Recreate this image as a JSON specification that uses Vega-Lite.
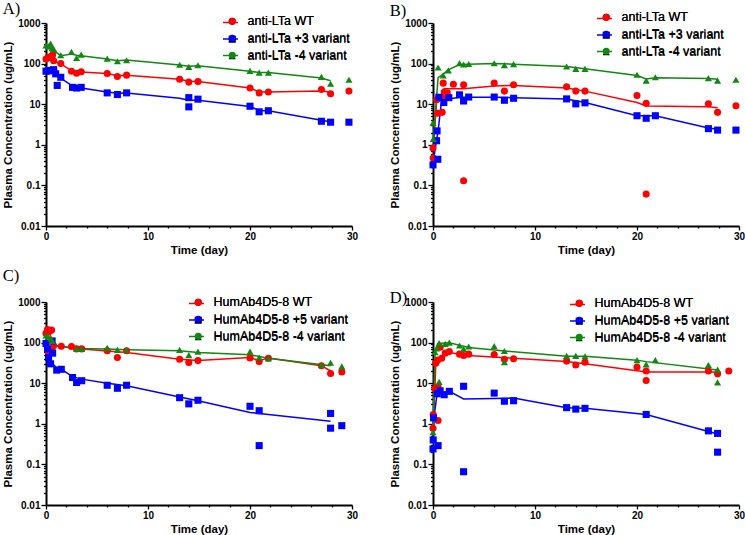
{
  "$schema": "https://vega.github.io/schema/vega-lite/v6.json",
  "padding": {"left": 2, "top": 0, "right": 0, "bottom": 0},
  "background": "white",
  "config": {
    "view": {"stroke": null},
    "axis": {
      "grid": false,
      "domainColor": "#000",
      "domainWidth": 2,
      "tickColor": "#000",
      "tickWidth": 1.3,
      "labelFont": "Liberation Sans",
      "labelFontWeight": "bold",
      "labelFontSize": 10,
      "labelColor": "#000",
      "labelOverlap": false,
      "labelFlush": false,
      "titleFont": "Liberation Sans",
      "titleFontWeight": "bold",
      "titleFontSize": 11.5,
      "titleColor": "#000"
    },
    "legend": {
      "orient": "none",
      "padding": 0,
      "labelFont": "Liberation Sans",
      "labelFontSize": 12.5,
      "labelColor": "#000",
      "symbolSize": 50,
      "labelOffset": 9,
      "rowPadding": 4
    },
    "title": {"font": "Liberation Serif", "fontSize": 16.5, "fontWeight": "normal", "color": "#000", "anchor": "start", "frame": "bounds"}
  },
  "datasets": {
    "A_obs": [
      {"series": "WT", "day": 0, "conc": 130}, {"series": "WT", "day": 0.2, "conc": 140}, {"series": "WT", "day": 0.45, "conc": 150}, {"series": "WT", "day": 0.65, "conc": 165}, {"series": "WT", "day": 0.75, "conc": 118}, {"series": "WT", "day": 1.45, "conc": 100}, {"series": "WT", "day": 2.5, "conc": 65}, {"series": "WT", "day": 3, "conc": 58}, {"series": "WT", "day": 3.45, "conc": 63}, {"series": "WT", "day": 6, "conc": 57}, {"series": "WT", "day": 7, "conc": 48}, {"series": "WT", "day": 7.9, "conc": 52}, {"series": "WT", "day": 13.1, "conc": 41}, {"series": "WT", "day": 14, "conc": 35}, {"series": "WT", "day": 14.9, "conc": 36}, {"series": "WT", "day": 20, "conc": 25}, {"series": "WT", "day": 20.9, "conc": 19}, {"series": "WT", "day": 21.8, "conc": 20}, {"series": "WT", "day": 27, "conc": 23}, {"series": "WT", "day": 27.9, "conc": 18}, {"series": "WT", "day": 29.7, "conc": 21},
      {"series": "+3", "day": 0, "conc": 65}, {"series": "+3", "day": 0.25, "conc": 68}, {"series": "+3", "day": 0.5, "conc": 66}, {"series": "+3", "day": 0.75, "conc": 71}, {"series": "+3", "day": 0.95, "conc": 56}, {"series": "+3", "day": 1.1, "conc": 29}, {"series": "+3", "day": 1.45, "conc": 46}, {"series": "+3", "day": 2.6, "conc": 26}, {"series": "+3", "day": 3, "conc": 25}, {"series": "+3", "day": 3.45, "conc": 26}, {"series": "+3", "day": 6, "conc": 19}, {"series": "+3", "day": 7, "conc": 17.3}, {"series": "+3", "day": 7.9, "conc": 19}, {"series": "+3", "day": 14, "conc": 14.5}, {"series": "+3", "day": 14, "conc": 8.6}, {"series": "+3", "day": 14.9, "conc": 13.3}, {"series": "+3", "day": 20, "conc": 8.9}, {"series": "+3", "day": 20.9, "conc": 6.5}, {"series": "+3", "day": 21.8, "conc": 6.9}, {"series": "+3", "day": 27, "conc": 3.8}, {"series": "+3", "day": 27.9, "conc": 3.6}, {"series": "+3", "day": 29.7, "conc": 3.6},
      {"series": "-4", "day": 0, "conc": 280}, {"series": "-4", "day": 0.25, "conc": 265}, {"series": "-4", "day": 0.45, "conc": 310}, {"series": "-4", "day": 0.6, "conc": 240}, {"series": "-4", "day": 0.75, "conc": 230}, {"series": "-4", "day": 1.45, "conc": 160}, {"series": "-4", "day": 2.5, "conc": 194}, {"series": "-4", "day": 3, "conc": 138}, {"series": "-4", "day": 3.45, "conc": 166}, {"series": "-4", "day": 6, "conc": 133}, {"series": "-4", "day": 7, "conc": 114}, {"series": "-4", "day": 7.9, "conc": 121}, {"series": "-4", "day": 13.1, "conc": 94}, {"series": "-4", "day": 14, "conc": 83}, {"series": "-4", "day": 14.9, "conc": 91}, {"series": "-4", "day": 20, "conc": 66}, {"series": "-4", "day": 20.9, "conc": 60}, {"series": "-4", "day": 21.8, "conc": 60}, {"series": "-4", "day": 27, "conc": 47}, {"series": "-4", "day": 27.9, "conc": 32}, {"series": "-4", "day": 29.7, "conc": 40}
    ],
    "A_fit": [
      {"series": "WT", "day": 0, "conc": 128}, {"series": "WT", "day": 0.45, "conc": 148}, {"series": "WT", "day": 0.65, "conc": 160}, {"series": "WT", "day": 1, "conc": 110}, {"series": "WT", "day": 1.45, "conc": 100}, {"series": "WT", "day": 2.5, "conc": 66}, {"series": "WT", "day": 3, "conc": 60}, {"series": "WT", "day": 3.45, "conc": 62}, {"series": "WT", "day": 6, "conc": 57}, {"series": "WT", "day": 7, "conc": 50}, {"series": "WT", "day": 7.9, "conc": 52}, {"series": "WT", "day": 13.1, "conc": 41}, {"series": "WT", "day": 14, "conc": 37}, {"series": "WT", "day": 14.9, "conc": 36}, {"series": "WT", "day": 20, "conc": 25}, {"series": "WT", "day": 20.9, "conc": 20}, {"series": "WT", "day": 21.8, "conc": 20}, {"series": "WT", "day": 27, "conc": 21}, {"series": "WT", "day": 27.9, "conc": 20},
      {"series": "+3", "day": 0, "conc": 66}, {"series": "+3", "day": 0.5, "conc": 68}, {"series": "+3", "day": 0.75, "conc": 66}, {"series": "+3", "day": 1, "conc": 50}, {"series": "+3", "day": 1.45, "conc": 44}, {"series": "+3", "day": 2.6, "conc": 28}, {"series": "+3", "day": 3, "conc": 26}, {"series": "+3", "day": 3.45, "conc": 25}, {"series": "+3", "day": 6, "conc": 20}, {"series": "+3", "day": 7, "conc": 18.5}, {"series": "+3", "day": 7.9, "conc": 19}, {"series": "+3", "day": 13.1, "conc": 14}, {"series": "+3", "day": 14, "conc": 12.5}, {"series": "+3", "day": 14.9, "conc": 12.5}, {"series": "+3", "day": 20, "conc": 8.8}, {"series": "+3", "day": 20.9, "conc": 7}, {"series": "+3", "day": 21.8, "conc": 6.9}, {"series": "+3", "day": 27, "conc": 4}, {"series": "+3", "day": 27.9, "conc": 3.7},
      {"series": "-4", "day": 0, "conc": 277}, {"series": "-4", "day": 0.45, "conc": 277}, {"series": "-4", "day": 0.75, "conc": 208}, {"series": "-4", "day": 1.45, "conc": 157}, {"series": "-4", "day": 2.5, "conc": 172}, {"series": "-4", "day": 3, "conc": 160}, {"series": "-4", "day": 3.45, "conc": 157}, {"series": "-4", "day": 6, "conc": 130}, {"series": "-4", "day": 7, "conc": 118}, {"series": "-4", "day": 7.9, "conc": 122}, {"series": "-4", "day": 13.1, "conc": 92}, {"series": "-4", "day": 14, "conc": 86}, {"series": "-4", "day": 14.9, "conc": 88}, {"series": "-4", "day": 20, "conc": 65}, {"series": "-4", "day": 20.9, "conc": 60}, {"series": "-4", "day": 21.8, "conc": 60}, {"series": "-4", "day": 27, "conc": 44}, {"series": "-4", "day": 27.9, "conc": 38}
    ],
    "B_obs": [
      {"series": "WT", "day": 0, "conc": 0.83}, {"series": "WT", "day": 0.02, "conc": 0.47}, {"series": "WT", "day": 0.35, "conc": 12.9}, {"series": "WT", "day": 0.45, "conc": 6}, {"series": "WT", "day": 0.9, "conc": 6.3}, {"series": "WT", "day": 1.05, "conc": 13.5}, {"series": "WT", "day": 1.1, "conc": 20}, {"series": "WT", "day": 1.4, "conc": 19}, {"series": "WT", "day": 1, "conc": 33}, {"series": "WT", "day": 2, "conc": 31}, {"series": "WT", "day": 3, "conc": 30}, {"series": "WT", "day": 3, "conc": 0.13}, {"series": "WT", "day": 6, "conc": 33}, {"series": "WT", "day": 7, "conc": 21}, {"series": "WT", "day": 7.9, "conc": 30}, {"series": "WT", "day": 13.1, "conc": 27}, {"series": "WT", "day": 14, "conc": 21}, {"series": "WT", "day": 14.9, "conc": 21}, {"series": "WT", "day": 20, "conc": 16.3}, {"series": "WT", "day": 20.9, "conc": 10.5}, {"series": "WT", "day": 20.9, "conc": 0.061}, {"series": "WT", "day": 27, "conc": 10.2}, {"series": "WT", "day": 27.9, "conc": 6.3}, {"series": "WT", "day": 29.7, "conc": 9.2},
      {"series": "+3", "day": 0, "conc": 0.32}, {"series": "+3", "day": 0.47, "conc": 0.44}, {"series": "+3", "day": 0.35, "conc": 1.26}, {"series": "+3", "day": 0.4, "conc": 2.2}, {"series": "+3", "day": 0.57, "conc": 14.8}, {"series": "+3", "day": 1.06, "conc": 11}, {"series": "+3", "day": 1.55, "conc": 14.5}, {"series": "+3", "day": 2.6, "conc": 17}, {"series": "+3", "day": 3, "conc": 12}, {"series": "+3", "day": 3.5, "conc": 15}, {"series": "+3", "day": 6, "conc": 15}, {"series": "+3", "day": 7, "conc": 12.5}, {"series": "+3", "day": 7.9, "conc": 14}, {"series": "+3", "day": 13.1, "conc": 13.5}, {"series": "+3", "day": 14, "conc": 10.2}, {"series": "+3", "day": 14.9, "conc": 10.8}, {"series": "+3", "day": 20, "conc": 5.2}, {"series": "+3", "day": 20.9, "conc": 4.5}, {"series": "+3", "day": 21.8, "conc": 5.2}, {"series": "+3", "day": 27, "conc": 2.5}, {"series": "+3", "day": 27.9, "conc": 2.3}, {"series": "+3", "day": 29.7, "conc": 2.3},
      {"series": "-4", "day": 0, "conc": 3.5}, {"series": "-4", "day": 0.03, "conc": 1.4}, {"series": "-4", "day": 0.5, "conc": 80}, {"series": "-4", "day": 1, "conc": 51}, {"series": "-4", "day": 1.5, "conc": 68}, {"series": "-4", "day": 2.6, "conc": 103}, {"series": "-4", "day": 3, "conc": 95}, {"series": "-4", "day": 3.5, "conc": 98}, {"series": "-4", "day": 6, "conc": 102}, {"series": "-4", "day": 7, "conc": 92}, {"series": "-4", "day": 7.9, "conc": 97}, {"series": "-4", "day": 13.1, "conc": 85}, {"series": "-4", "day": 14, "conc": 74}, {"series": "-4", "day": 14.9, "conc": 74}, {"series": "-4", "day": 20, "conc": 53}, {"series": "-4", "day": 20.9, "conc": 38}, {"series": "-4", "day": 21.8, "conc": 46}, {"series": "-4", "day": 27, "conc": 44}, {"series": "-4", "day": 27.9, "conc": 38}, {"series": "-4", "day": 29.7, "conc": 40}
    ],
    "B_fit": [
      {"series": "WT", "day": 0, "conc": 0.7}, {"series": "WT", "day": 0.35, "conc": 11}, {"series": "WT", "day": 0.9, "conc": 13}, {"series": "WT", "day": 1.1, "conc": 24}, {"series": "WT", "day": 2, "conc": 24}, {"series": "WT", "day": 3, "conc": 24}, {"series": "WT", "day": 6, "conc": 28}, {"series": "WT", "day": 7.9, "conc": 29}, {"series": "WT", "day": 13.1, "conc": 25}, {"series": "WT", "day": 14.9, "conc": 21}, {"series": "WT", "day": 20, "conc": 11}, {"series": "WT", "day": 20.9, "conc": 9}, {"series": "WT", "day": 27, "conc": 8.6}, {"series": "WT", "day": 27.9, "conc": 8.2},
      {"series": "+3", "day": 0, "conc": 0.36}, {"series": "+3", "day": 0.35, "conc": 1.3}, {"series": "+3", "day": 0.5, "conc": 2.2}, {"series": "+3", "day": 0.8, "conc": 10}, {"series": "+3", "day": 1.06, "conc": 12}, {"series": "+3", "day": 1.55, "conc": 13.5}, {"series": "+3", "day": 2.6, "conc": 14.8}, {"series": "+3", "day": 3.5, "conc": 14.8}, {"series": "+3", "day": 6, "conc": 14.8}, {"series": "+3", "day": 7.9, "conc": 14.5}, {"series": "+3", "day": 13.1, "conc": 13.5}, {"series": "+3", "day": 14.9, "conc": 11}, {"series": "+3", "day": 20, "conc": 5.2}, {"series": "+3", "day": 21.8, "conc": 5.2}, {"series": "+3", "day": 27, "conc": 2.6}, {"series": "+3", "day": 27.9, "conc": 2.4},
      {"series": "-4", "day": 0, "conc": 1.2}, {"series": "-4", "day": 0.3, "conc": 10}, {"series": "-4", "day": 0.5, "conc": 45}, {"series": "-4", "day": 1, "conc": 55}, {"series": "-4", "day": 1.5, "conc": 70}, {"series": "-4", "day": 2.6, "conc": 95}, {"series": "-4", "day": 3.5, "conc": 97}, {"series": "-4", "day": 6, "conc": 100}, {"series": "-4", "day": 7.9, "conc": 97}, {"series": "-4", "day": 13.1, "conc": 85}, {"series": "-4", "day": 14.9, "conc": 75}, {"series": "-4", "day": 20, "conc": 51}, {"series": "-4", "day": 20.9, "conc": 42}, {"series": "-4", "day": 21.8, "conc": 45}, {"series": "-4", "day": 27, "conc": 43}, {"series": "-4", "day": 27.9, "conc": 41}
    ],
    "C_obs": [
      {"series": "WT", "day": 0, "conc": 170}, {"series": "WT", "day": 0.15, "conc": 210}, {"series": "WT", "day": 0.35, "conc": 190}, {"series": "WT", "day": 0.55, "conc": 205}, {"series": "WT", "day": 0.2, "conc": 63}, {"series": "WT", "day": 0.35, "conc": 57}, {"series": "WT", "day": 0.6, "conc": 62}, {"series": "WT", "day": 0.75, "conc": 84}, {"series": "WT", "day": 1.5, "conc": 81}, {"series": "WT", "day": 2.5, "conc": 80}, {"series": "WT", "day": 3, "conc": 70}, {"series": "WT", "day": 3.5, "conc": 70}, {"series": "WT", "day": 6, "conc": 63}, {"series": "WT", "day": 7, "conc": 43}, {"series": "WT", "day": 7.9, "conc": 63}, {"series": "WT", "day": 13.1, "conc": 39}, {"series": "WT", "day": 14, "conc": 32.5}, {"series": "WT", "day": 14.9, "conc": 36}, {"series": "WT", "day": 20, "conc": 42}, {"series": "WT", "day": 20.9, "conc": 34}, {"series": "WT", "day": 21.8, "conc": 41}, {"series": "WT", "day": 27, "conc": 27}, {"series": "WT", "day": 27.9, "conc": 17.4}, {"series": "WT", "day": 29, "conc": 19},
      {"series": "+5", "day": 0, "conc": 95}, {"series": "+5", "day": 0.15, "conc": 70}, {"series": "+5", "day": 0.25, "conc": 43}, {"series": "+5", "day": 0.45, "conc": 30}, {"series": "+5", "day": 0.65, "conc": 55}, {"series": "+5", "day": 0.6, "conc": 110}, {"series": "+5", "day": 1.05, "conc": 21}, {"series": "+5", "day": 1.5, "conc": 22}, {"series": "+5", "day": 2.6, "conc": 13.8}, {"series": "+5", "day": 3, "conc": 10.4}, {"series": "+5", "day": 3.5, "conc": 11.5}, {"series": "+5", "day": 6, "conc": 8.9}, {"series": "+5", "day": 7, "conc": 7.5}, {"series": "+5", "day": 7.9, "conc": 8.9}, {"series": "+5", "day": 13.1, "conc": 4.4}, {"series": "+5", "day": 14, "conc": 3.1}, {"series": "+5", "day": 14.9, "conc": 3.8}, {"series": "+5", "day": 20, "conc": 2.7}, {"series": "+5", "day": 20.9, "conc": 2.1}, {"series": "+5", "day": 20.9, "conc": 0.29}, {"series": "+5", "day": 27.9, "conc": 1.8}, {"series": "+5", "day": 27.9, "conc": 0.78}, {"series": "+5", "day": 29, "conc": 0.9},
      {"series": "-4", "day": 0, "conc": 150}, {"series": "-4", "day": 0.2, "conc": 140}, {"series": "-4", "day": 0.5, "conc": 125}, {"series": "-4", "day": 0.6, "conc": 110}, {"series": "-4", "day": 3, "conc": 70}, {"series": "-4", "day": 3.5, "conc": 70}, {"series": "-4", "day": 6, "conc": 74}, {"series": "-4", "day": 7, "conc": 66}, {"series": "-4", "day": 7.9, "conc": 66}, {"series": "-4", "day": 13.1, "conc": 66}, {"series": "-4", "day": 14, "conc": 49}, {"series": "-4", "day": 14.9, "conc": 60}, {"series": "-4", "day": 20, "conc": 60}, {"series": "-4", "day": 20.9, "conc": 43}, {"series": "-4", "day": 21.8, "conc": 41}, {"series": "-4", "day": 27, "conc": 28}, {"series": "-4", "day": 27.9, "conc": 32}, {"series": "-4", "day": 29, "conc": 26}
    ],
    "C_fit": [
      {"series": "WT", "day": 0, "conc": 180}, {"series": "WT", "day": 0.35, "conc": 200}, {"series": "WT", "day": 0.55, "conc": 80}, {"series": "WT", "day": 0.75, "conc": 84}, {"series": "WT", "day": 1.5, "conc": 80}, {"series": "WT", "day": 2.5, "conc": 74}, {"series": "WT", "day": 3.5, "conc": 70}, {"series": "WT", "day": 6, "conc": 62}, {"series": "WT", "day": 7.9, "conc": 57}, {"series": "WT", "day": 13.1, "conc": 39}, {"series": "WT", "day": 14.9, "conc": 36}, {"series": "WT", "day": 20, "conc": 43}, {"series": "WT", "day": 20.9, "conc": 36}, {"series": "WT", "day": 21.8, "conc": 42}, {"series": "WT", "day": 27, "conc": 27}, {"series": "WT", "day": 27.9, "conc": 20},
      {"series": "+5", "day": 0, "conc": 90}, {"series": "+5", "day": 0.2, "conc": 55}, {"series": "+5", "day": 0.45, "conc": 35}, {"series": "+5", "day": 0.65, "conc": 30}, {"series": "+5", "day": 1.05, "conc": 24}, {"series": "+5", "day": 1.5, "conc": 22}, {"series": "+5", "day": 2.6, "conc": 14.5}, {"series": "+5", "day": 3.5, "conc": 12.6}, {"series": "+5", "day": 6, "conc": 10}, {"series": "+5", "day": 7.9, "conc": 8.6}, {"series": "+5", "day": 13.1, "conc": 4.6}, {"series": "+5", "day": 14.9, "conc": 3.7}, {"series": "+5", "day": 20, "conc": 1.9}, {"series": "+5", "day": 20.9, "conc": 1.8}, {"series": "+5", "day": 27.9, "conc": 1.16},
      {"series": "-4", "day": 0, "conc": 150}, {"series": "-4", "day": 0.5, "conc": 120}, {"series": "-4", "day": 1, "conc": 85}, {"series": "-4", "day": 3, "conc": 72}, {"series": "-4", "day": 6, "conc": 70}, {"series": "-4", "day": 7.9, "conc": 67}, {"series": "-4", "day": 13.1, "conc": 63}, {"series": "-4", "day": 14.9, "conc": 57}, {"series": "-4", "day": 20, "conc": 50}, {"series": "-4", "day": 21.8, "conc": 41}, {"series": "-4", "day": 27.9, "conc": 27}
    ],
    "D_obs": [
      {"series": "WT", "day": 0, "conc": 0.78}, {"series": "WT", "day": 0.02, "conc": 1.7}, {"series": "WT", "day": 0.5, "conc": 1.2}, {"series": "WT", "day": 0.17, "conc": 7.4}, {"series": "WT", "day": 0.5, "conc": 8.2}, {"series": "WT", "day": 0.27, "conc": 31}, {"series": "WT", "day": 0.45, "conc": 37}, {"series": "WT", "day": 0.7, "conc": 77}, {"series": "WT", "day": 0.85, "conc": 41}, {"series": "WT", "day": 1.2, "conc": 55}, {"series": "WT", "day": 1.6, "conc": 60}, {"series": "WT", "day": 2.6, "conc": 52}, {"series": "WT", "day": 3, "conc": 48}, {"series": "WT", "day": 3.5, "conc": 52}, {"series": "WT", "day": 6, "conc": 51}, {"series": "WT", "day": 7, "conc": 39}, {"series": "WT", "day": 7.9, "conc": 40}, {"series": "WT", "day": 13.1, "conc": 35}, {"series": "WT", "day": 14, "conc": 28}, {"series": "WT", "day": 14.9, "conc": 33}, {"series": "WT", "day": 20, "conc": 25}, {"series": "WT", "day": 20.9, "conc": 20}, {"series": "WT", "day": 20.9, "conc": 11.7}, {"series": "WT", "day": 27, "conc": 20}, {"series": "WT", "day": 27.9, "conc": 17}, {"series": "WT", "day": 29, "conc": 20},
      {"series": "+5", "day": 0, "conc": 0.24}, {"series": "+5", "day": 0.02, "conc": 0.4}, {"series": "+5", "day": 0.05, "conc": 1.4}, {"series": "+5", "day": 0.5, "conc": 0.29}, {"series": "+5", "day": 0.42, "conc": 5.5}, {"series": "+5", "day": 0.7, "conc": 6.5}, {"series": "+5", "day": 1.1, "conc": 5.2}, {"series": "+5", "day": 1.6, "conc": 6.3}, {"series": "+5", "day": 3, "conc": 8.4}, {"series": "+5", "day": 3, "conc": 0.066}, {"series": "+5", "day": 6, "conc": 5.7}, {"series": "+5", "day": 7, "conc": 3.6}, {"series": "+5", "day": 7.9, "conc": 3.7}, {"series": "+5", "day": 13.1, "conc": 2.5}, {"series": "+5", "day": 14, "conc": 2.3}, {"series": "+5", "day": 14.9, "conc": 2.4}, {"series": "+5", "day": 20.9, "conc": 1.7}, {"series": "+5", "day": 27, "conc": 0.67}, {"series": "+5", "day": 27.9, "conc": 0.58}, {"series": "+5", "day": 27.9, "conc": 0.2},
      {"series": "-4", "day": 0, "conc": 0.62}, {"series": "-4", "day": 0.2, "conc": 58}, {"series": "-4", "day": 0.35, "conc": 72}, {"series": "-4", "day": 0.6, "conc": 97}, {"series": "-4", "day": 0.6, "conc": 10.8}, {"series": "-4", "day": 1.2, "conc": 93}, {"series": "-4", "day": 1.6, "conc": 100}, {"series": "-4", "day": 2.6, "conc": 85}, {"series": "-4", "day": 3, "conc": 70}, {"series": "-4", "day": 3.5, "conc": 80}, {"series": "-4", "day": 6, "conc": 82}, {"series": "-4", "day": 7, "conc": 62}, {"series": "-4", "day": 7, "conc": 33}, {"series": "-4", "day": 13.1, "conc": 47}, {"series": "-4", "day": 14, "conc": 47}, {"series": "-4", "day": 14.9, "conc": 46}, {"series": "-4", "day": 20, "conc": 37}, {"series": "-4", "day": 20.9, "conc": 29}, {"series": "-4", "day": 21.8, "conc": 37}, {"series": "-4", "day": 27, "conc": 28}, {"series": "-4", "day": 27.9, "conc": 21.6}, {"series": "-4", "day": 27.9, "conc": 10.5}
    ],
    "D_fit": [
      {"series": "WT", "day": 0, "conc": 0.9}, {"series": "WT", "day": 0.17, "conc": 6}, {"series": "WT", "day": 0.27, "conc": 28}, {"series": "WT", "day": 0.45, "conc": 33}, {"series": "WT", "day": 0.85, "conc": 42}, {"series": "WT", "day": 1.2, "conc": 50}, {"series": "WT", "day": 1.6, "conc": 58}, {"series": "WT", "day": 3, "conc": 49}, {"series": "WT", "day": 7.9, "conc": 41}, {"series": "WT", "day": 13.1, "conc": 34}, {"series": "WT", "day": 14.9, "conc": 30}, {"series": "WT", "day": 20.9, "conc": 19}, {"series": "WT", "day": 27.9, "conc": 19},
      {"series": "+5", "day": 0, "conc": 0.5}, {"series": "+5", "day": 0.1, "conc": 1.5}, {"series": "+5", "day": 0.4, "conc": 5.4}, {"series": "+5", "day": 1.6, "conc": 6.3}, {"series": "+5", "day": 3, "conc": 4.1}, {"series": "+5", "day": 7.9, "conc": 4.3}, {"series": "+5", "day": 13.1, "conc": 2.5}, {"series": "+5", "day": 14.9, "conc": 2.4}, {"series": "+5", "day": 20.9, "conc": 1.7}, {"series": "+5", "day": 27.9, "conc": 0.56},
      {"series": "-4", "day": 0, "conc": 0.7}, {"series": "-4", "day": 0.2, "conc": 55}, {"series": "-4", "day": 0.5, "conc": 95}, {"series": "-4", "day": 1.6, "conc": 99}, {"series": "-4", "day": 3.5, "conc": 76}, {"series": "-4", "day": 7, "conc": 62}, {"series": "-4", "day": 13.1, "conc": 46}, {"series": "-4", "day": 14.9, "conc": 46}, {"series": "-4", "day": 20, "conc": 37}, {"series": "-4", "day": 20.9, "conc": 34}, {"series": "-4", "day": 27.9, "conc": 21}
    ]
  },
  "columns": 2,
  "spacing": {"row": 11, "column": 31},
  "resolve": {"scale": {"color": "independent", "shape": "independent"}, "legend": {"color": "independent", "shape": "independent"}},
  "concat": [
    {
      "title": {"text": "A)", "offset": -3},
      "width": 306,
      "height": 203,
      "encoding": {
        "x": {"field": "day", "type": "quantitative", "title": "Time (day)", "scale": {"domain": [0, 30], "nice": false, "zero": false},
          "axis": {"values": [0, 2, 4, 6, 8, 10, 12, 14, 16, 18, 20, 22, 24, 26, 28, 30], "labelExpr": "datum.value % 10 == 0 ? datum.label : ''", "tickSize": {"condition": {"test": "datum.value % 10 == 0", "value": 4}, "value": 2}, "labelPadding": 1, "titlePadding": 3}},
        "y": {"field": "conc", "type": "quantitative", "title": "Plasma Concentration (ug/mL)", "scale": {"type": "log", "domain": [0.01, 1000], "nice": false},
          "axis": {"values": [0.01, 0.02, 0.03, 0.04, 0.05, 0.06, 0.07, 0.08, 0.09, 0.1, 0.2, 0.3, 0.4, 0.5, 0.6, 0.7, 0.8, 0.9, 1, 2, 3, 4, 5, 6, 7, 8, 9, 10, 20, 30, 40, 50, 60, 70, 80, 90, 100, 200, 300, 400, 500, 600, 700, 800, 900, 1000], "format": "~g", "labelExpr": "abs(log(datum.value) / LN10 - round(log(datum.value) / LN10)) < 0.001 ? datum.label : ''", "tickSize": {"condition": {"test": "abs(log(datum.value) / LN10 - round(log(datum.value) / LN10)) < 0.001", "value": 5}, "value": 2.5}, "labelPadding": 1, "titlePadding": 4}}
      },
      "resolve": {"scale": {"color": "independent"}},
      "layer": [
        {"data": {"name": "A_fit"}, "mark": {"type": "line", "strokeWidth": 1.5},
          "encoding": {"color": {"field": "series", "type": "nominal", "scale": {"domain": ["WT", "+3", "-4"], "range": ["#ff0000", "#0000ff", "#118811"]},
            "legend": {"title": null, "legendX": 176, "legendY": -9, "symbolType": "stroke", "symbolSize": 225, "symbolStrokeWidth": 1.5, "rowPadding": 1.5, "labelOpacity": 0, "labelExpr": "datum.label == 'WT' ? 'anti-LTa WT' : 'anti-LTa ' + datum.label + ' variant'"}}}},
        {"data": {"name": "A_obs"}, "mark": {"type": "point", "filled": true, "opacity": 1, "size": 50},
          "encoding": {"color": {"field": "series", "type": "nominal", "scale": {"domain": ["WT", "+3", "-4"], "range": ["#ff0000", "#0000ff", "#118811"]},
            "legend": {"title": null, "legendX": 180, "legendY": -8, "labelExpr": "datum.label == 'WT' ? 'anti-LTa WT' : 'anti-LTa ' + datum.label + ' variant'"}},
            "shape": {"field": "series", "type": "nominal", "scale": {"domain": ["WT", "+3", "-4"], "range": ["circle", "square", "triangle-up"]},
            "legend": {"title": null, "legendX": 180, "legendY": -8, "labelExpr": "datum.label == 'WT' ? 'anti-LTa WT' : 'anti-LTa ' + datum.label + ' variant'"}}}}
      ]
    },
    {
      "title": {"text": "B)", "offset": -9},
      "width": 306,
      "height": 203,
      "encoding": {
        "x": {"field": "day", "type": "quantitative", "title": "Time (day)", "scale": {"domain": [0, 30], "nice": false, "zero": false},
          "axis": {"values": [0, 2, 4, 6, 8, 10, 12, 14, 16, 18, 20, 22, 24, 26, 28, 30], "labelExpr": "datum.value % 10 == 0 ? datum.label : ''", "tickSize": {"condition": {"test": "datum.value % 10 == 0", "value": 4}, "value": 2}, "labelPadding": 1, "titlePadding": 3}},
        "y": {"field": "conc", "type": "quantitative", "title": "Plasma Concentration (ug/mL)", "scale": {"type": "log", "domain": [0.01, 1000], "nice": false},
          "axis": {"values": [0.01, 0.02, 0.03, 0.04, 0.05, 0.06, 0.07, 0.08, 0.09, 0.1, 0.2, 0.3, 0.4, 0.5, 0.6, 0.7, 0.8, 0.9, 1, 2, 3, 4, 5, 6, 7, 8, 9, 10, 20, 30, 40, 50, 60, 70, 80, 90, 100, 200, 300, 400, 500, 600, 700, 800, 900, 1000], "format": "~g", "labelExpr": "abs(log(datum.value) / LN10 - round(log(datum.value) / LN10)) < 0.001 ? datum.label : ''", "tickSize": {"condition": {"test": "abs(log(datum.value) / LN10 - round(log(datum.value) / LN10)) < 0.001", "value": 5}, "value": 2.5}, "labelPadding": 1, "titlePadding": 4}}
      },
      "resolve": {"scale": {"color": "independent"}},
      "layer": [
        {"data": {"name": "B_fit"}, "mark": {"type": "line", "strokeWidth": 1.5},
          "encoding": {"color": {"field": "series", "type": "nominal", "scale": {"domain": ["WT", "+3", "-4"], "range": ["#ff0000", "#0000ff", "#118811"]},
            "legend": {"title": null, "legendX": 163, "legendY": -13, "symbolType": "stroke", "symbolSize": 225, "symbolStrokeWidth": 1.5, "rowPadding": 1.5, "labelOpacity": 0, "labelExpr": "datum.label == 'WT' ? 'anti-LTa WT' : 'anti-LTa ' + datum.label + ' variant'"}}}},
        {"data": {"name": "B_obs"}, "mark": {"type": "point", "filled": true, "opacity": 1, "size": 50},
          "encoding": {"color": {"field": "series", "type": "nominal", "scale": {"domain": ["WT", "+3", "-4"], "range": ["#ff0000", "#0000ff", "#118811"]},
            "legend": {"title": null, "legendX": 167, "legendY": -12, "labelExpr": "datum.label == 'WT' ? 'anti-LTa WT' : 'anti-LTa ' + datum.label + ' variant'"}},
            "shape": {"field": "series", "type": "nominal", "scale": {"domain": ["WT", "+3", "-4"], "range": ["circle", "square", "triangle-up"]},
            "legend": {"title": null, "legendX": 167, "legendY": -12, "labelExpr": "datum.label == 'WT' ? 'anti-LTa WT' : 'anti-LTa ' + datum.label + ' variant'"}}}}
      ]
    },
    {
      "title": {"text": "C)", "offset": 11},
      "width": 306,
      "height": 203,
      "encoding": {
        "x": {"field": "day", "type": "quantitative", "title": "Time (day)", "scale": {"domain": [0, 30], "nice": false, "zero": false},
          "axis": {"values": [0, 2, 4, 6, 8, 10, 12, 14, 16, 18, 20, 22, 24, 26, 28, 30], "labelExpr": "datum.value % 10 == 0 ? datum.label : ''", "tickSize": {"condition": {"test": "datum.value % 10 == 0", "value": 4}, "value": 2}, "labelPadding": 1, "titlePadding": 3}},
        "y": {"field": "conc", "type": "quantitative", "title": "Plasma Concentration (ug/mL)", "scale": {"type": "log", "domain": [0.01, 1000], "nice": false},
          "axis": {"values": [0.01, 0.02, 0.03, 0.04, 0.05, 0.06, 0.07, 0.08, 0.09, 0.1, 0.2, 0.3, 0.4, 0.5, 0.6, 0.7, 0.8, 0.9, 1, 2, 3, 4, 5, 6, 7, 8, 9, 10, 20, 30, 40, 50, 60, 70, 80, 90, 100, 200, 300, 400, 500, 600, 700, 800, 900, 1000], "format": "~g", "labelExpr": "abs(log(datum.value) / LN10 - round(log(datum.value) / LN10)) < 0.001 ? datum.label : ''", "tickSize": {"condition": {"test": "abs(log(datum.value) / LN10 - round(log(datum.value) / LN10)) < 0.001", "value": 5}, "value": 2.5}, "labelPadding": 1, "titlePadding": 4}}
      },
      "resolve": {"scale": {"color": "independent"}},
      "layer": [
        {"data": {"name": "C_fit"}, "mark": {"type": "line", "strokeWidth": 1.5},
          "encoding": {"color": {"field": "series", "type": "nominal", "scale": {"domain": ["WT", "+5", "-4"], "range": ["#ff0000", "#0000ff", "#118811"]},
            "legend": {"title": null, "legendX": 142, "legendY": -7, "symbolType": "stroke", "symbolSize": 225, "symbolStrokeWidth": 1.5, "rowPadding": 1.5, "labelOpacity": 0, "labelExpr": "datum.label == 'WT' ? 'HumAb4D5-8 WT' : 'HumAb4D5-8 ' + datum.label + ' variant'"}}}},
        {"data": {"name": "C_obs"}, "mark": {"type": "point", "filled": true, "opacity": 1, "size": 50},
          "encoding": {"color": {"field": "series", "type": "nominal", "scale": {"domain": ["WT", "+5", "-4"], "range": ["#ff0000", "#0000ff", "#118811"]},
            "legend": {"title": null, "legendX": 146, "legendY": -6, "labelExpr": "datum.label == 'WT' ? 'HumAb4D5-8 WT' : 'HumAb4D5-8 ' + datum.label + ' variant'"}},
            "shape": {"field": "series", "type": "nominal", "scale": {"domain": ["WT", "+5", "-4"], "range": ["circle", "square", "triangle-up"]},
            "legend": {"title": null, "legendX": 146, "legendY": -6, "labelExpr": "datum.label == 'WT' ? 'HumAb4D5-8 WT' : 'HumAb4D5-8 ' + datum.label + ' variant'"}}}}
      ]
    },
    {
      "title": {"text": "D)", "offset": -10},
      "width": 306,
      "height": 203,
      "encoding": {
        "x": {"field": "day", "type": "quantitative", "title": "Time (day)", "scale": {"domain": [0, 30], "nice": false, "zero": false},
          "axis": {"values": [0, 2, 4, 6, 8, 10, 12, 14, 16, 18, 20, 22, 24, 26, 28, 30], "labelExpr": "datum.value % 10 == 0 ? datum.label : ''", "tickSize": {"condition": {"test": "datum.value % 10 == 0", "value": 4}, "value": 2}, "labelPadding": 1, "titlePadding": 3}},
        "y": {"field": "conc", "type": "quantitative", "title": "Plasma Concentration (ug/mL)", "scale": {"type": "log", "domain": [0.01, 1000], "nice": false},
          "axis": {"values": [0.01, 0.02, 0.03, 0.04, 0.05, 0.06, 0.07, 0.08, 0.09, 0.1, 0.2, 0.3, 0.4, 0.5, 0.6, 0.7, 0.8, 0.9, 1, 2, 3, 4, 5, 6, 7, 8, 9, 10, 20, 30, 40, 50, 60, 70, 80, 90, 100, 200, 300, 400, 500, 600, 700, 800, 900, 1000], "format": "~g", "labelExpr": "abs(log(datum.value) / LN10 - round(log(datum.value) / LN10)) < 0.001 ? datum.label : ''", "tickSize": {"condition": {"test": "abs(log(datum.value) / LN10 - round(log(datum.value) / LN10)) < 0.001", "value": 5}, "value": 2.5}, "labelPadding": 1, "titlePadding": 4}}
      },
      "resolve": {"scale": {"color": "independent"}},
      "layer": [
        {"data": {"name": "D_fit"}, "mark": {"type": "line", "strokeWidth": 1.5},
          "encoding": {"color": {"field": "series", "type": "nominal", "scale": {"domain": ["WT", "+5", "-4"], "range": ["#ff0000", "#0000ff", "#118811"]},
            "legend": {"title": null, "legendX": 136, "legendY": -6, "symbolType": "stroke", "symbolSize": 225, "symbolStrokeWidth": 1.5, "rowPadding": 1.5, "labelOpacity": 0, "labelExpr": "datum.label == 'WT' ? 'HumAb4D5-8 WT' : 'HumAb4D5-8 ' + datum.label + ' variant'"}}}},
        {"data": {"name": "D_obs"}, "mark": {"type": "point", "filled": true, "opacity": 1, "size": 50},
          "encoding": {"color": {"field": "series", "type": "nominal", "scale": {"domain": ["WT", "+5", "-4"], "range": ["#ff0000", "#0000ff", "#118811"]},
            "legend": {"title": null, "legendX": 140, "legendY": -5, "labelExpr": "datum.label == 'WT' ? 'HumAb4D5-8 WT' : 'HumAb4D5-8 ' + datum.label + ' variant'"}},
            "shape": {"field": "series", "type": "nominal", "scale": {"domain": ["WT", "+5", "-4"], "range": ["circle", "square", "triangle-up"]},
            "legend": {"title": null, "legendX": 140, "legendY": -5, "labelExpr": "datum.label == 'WT' ? 'HumAb4D5-8 WT' : 'HumAb4D5-8 ' + datum.label + ' variant'"}}}}
      ]
    }
  ]
}
